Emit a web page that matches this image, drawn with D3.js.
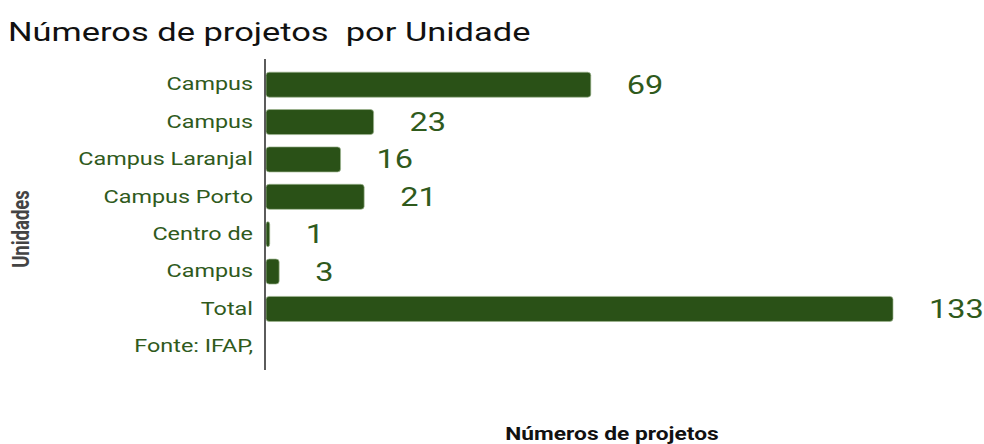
<!DOCTYPE html>
<html>
<head>
<meta charset="utf-8">
<script src="https://cdn.jsdelivr.net/npm/d3@7"></script>
<style>
  html, body { margin: 0; padding: 0; background: #fff; }
  svg { display: block; }
</style>
</head>
<body>
<svg id="chart" width="984" height="444"></svg>
<script>
// Projects per unit
const categories = ["Campus", "Campus", "Campus Laranjal", "Campus Porto", "Centro de", "Campus", "Total", "Fonte: IFAP,"];
const values = [69, 23, 16, 21, 1, 3, 133, null];
const chartTitle = "Números de projetos  por Unidade";
const xTitle = "Números de projetos";
const yTitle = "Unidades";

const W = 984, H = 444;
const sx = 1.3;              // the whole drawing is widened horizontally
const iw = W / sx;

const barColor = "#2a5117";
const textGreen = "#2f5a1c";
const fontFamily = "Roboto, 'Noto Sans', sans-serif";

const svg = d3.select("#chart");
const g = svg.append("g").attr("transform", `scale(${sx},1)`);

const axisX = 265 / sx;
const xMaxPx = 893 / sx;

const x = d3.scaleLinear().domain([0, 133]).range([axisX, xMaxPx]);
const y = d3.scaleBand()
  .domain(categories.map((d, i) => i))
  .range([66, 365])
  .paddingInner(0.33)
  .paddingOuter(0.165);

// title
g.append("text")
  .attr("x", 8 / sx).attr("y", 41)
  .attr("font-family", fontFamily)
  .attr("font-size", 26.5)
  .attr("fill", "#111")
  .style("white-space", "pre")
  .attr("xml:space", "preserve")
  .text(chartTitle);

// bars
const rows = categories.map((c, i) => ({ c, v: values[i], i }));
g.selectAll("rect.bar")
  .data(rows.filter(d => d.v != null))
  .join("rect")
  .attr("class", "bar")
  .attr("x", x(0) + 0.8)
  .attr("y", d => y(d.i))
  .attr("width", d => Math.max(0, x(d.v) - x(0) - 0.8))
  .attr("height", y.bandwidth())
  .attr("rx", 2.5).attr("ry", 3)
  .attr("fill", barColor)
  .attr("stroke", "#9db58f")
  .attr("stroke-width", 0.6);

// value labels
g.selectAll("text.val")
  .data(rows.filter(d => d.v != null))
  .join("text")
  .attr("class", "val")
  .attr("x", d => x(d.v) + 36 / sx)
  .attr("y", d => y(d.i) + y.bandwidth() / 2)
  .attr("dy", "0.36em")
  .attr("text-anchor", "start")
  .attr("font-family", fontFamily)
  .attr("font-size", 25)
  .attr("fill", textGreen)
  .text(d => d.v);

// category axis
const yAxis = d3.axisLeft(y)
  .tickSize(0)
  .tickPadding(12 / sx)
  .tickFormat(i => categories[i]);
const ax = g.append("g")
  .attr("transform", `translate(${axisX},0)`)
  .call(yAxis);
ax.select(".domain")
  .attr("d", "M0,59V370")
  .attr("stroke", "#333")
  .attr("stroke-width", 1.6 / sx);
ax.selectAll(".tick text")
  .attr("font-family", fontFamily)
  .attr("font-size", 18)
  .attr("fill", textGreen);

// axis titles
g.append("text")
  .attr("transform", `translate(${29 / sx},229) rotate(-90)`)
  .attr("text-anchor", "middle")
  .attr("font-family", fontFamily)
  .attr("font-weight", "bold")
  .attr("font-size", 18.5)
  .attr("fill", "#444")
  .text(yTitle);

g.append("text")
  .attr("x", 612 / sx).attr("y", 440)
  .attr("text-anchor", "middle")
  .attr("font-family", fontFamily)
  .attr("font-weight", "bold")
  .attr("font-size", 17.5)
  .attr("fill", "#111")
  .text(xTitle);
</script>
</body>
</html>
